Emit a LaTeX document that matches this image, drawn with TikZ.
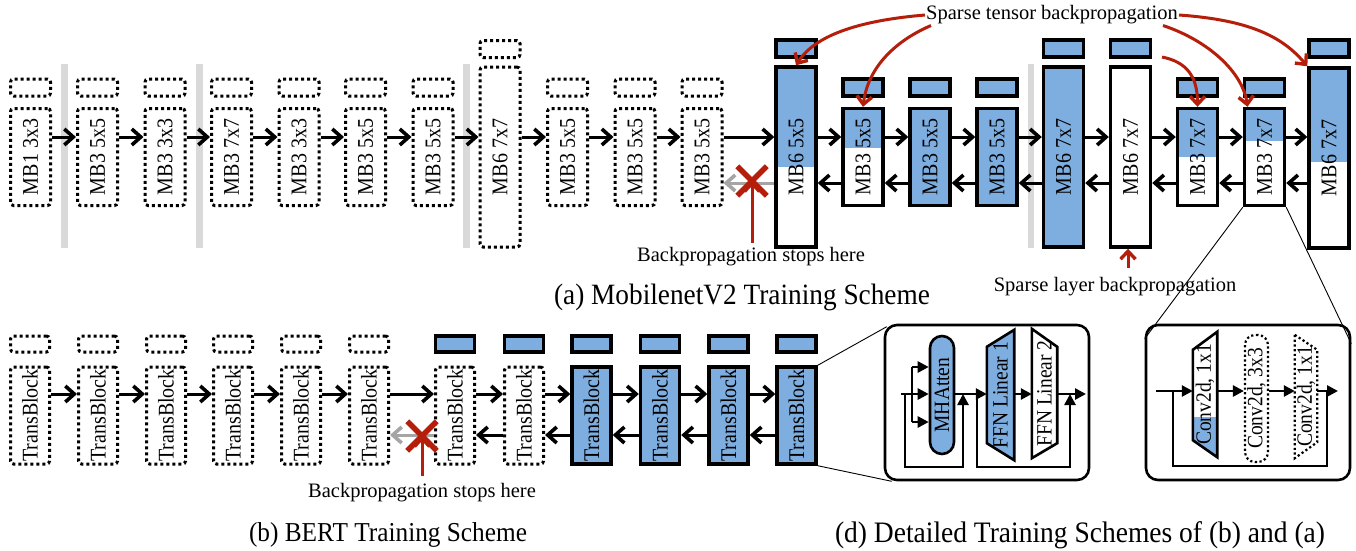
\documentclass[tikz,border=0pt]{standalone}
\usepackage{fontspec}
\setmainfont{Liberation Serif}
\usepackage{graphicx}
\usetikzlibrary{arrows.meta,shapes.misc,calc}
\definecolor{myblue}{RGB}{126,174,224}
\definecolor{myred}{RGB}{180,30,10}
\definecolor{bargray}{RGB}{217,217,217}
\definecolor{arrgray}{RGB}{165,165,165}
\newcommand\vtxt[1]{\rotatebox{90}{\scalebox{1}[1.12]{#1}}}
\newcommand\ctxt[1]{\scalebox{1}[1.08]{#1}}
\pgfdeclarelayer{bg}
\pgfsetlayers{bg,main}
\tikzset{
  lbl/.style={font=\fontsize{20}{24}\selectfont, inner sep=0pt, align=center},
  dotb/.style={lbl, draw, line width=3pt, dash pattern=on 3pt off 3pt, rounded corners=3pt},
  solb/.style={lbl, draw, line width=3.4pt},
  bluefill/.style={fill=myblue},
  whitefill/.style={fill=white},
  reg/.style={minimum width=40pt, minimum height=97pt},
  tall/.style={minimum width=40pt, minimum height=180pt},
  smallb/.style={minimum width=40pt, minimum height=17pt},
  treg/.style={minimum width=39pt, minimum height=97pt},
  tsmall/.style={minimum width=39pt, minimum height=16pt},
  partfill/.style={path picture={\fill[myblue] (path picture bounding box.north west) rectangle ($(path picture bounding box.north east)!#1!(path picture bounding box.south east)$);}},
  bar/.style={fill=bargray, draw=none, minimum width=6.5pt, inner sep=0pt},
  fwd/.style={line width=3pt, -{Straight Barb[length=9pt,width=16pt,line width=3.6pt]}},
  gfwd/.style={line width=3pt, draw=arrgray, -{Straight Barb[length=9pt,width=16pt,line width=3.6pt]}},
  redarr/.style={line width=3pt, draw=myred, -{Straight Barb[length=8pt,width=15pt,line width=3.4pt]}},
  xmark/.style={cross out, draw=myred, line width=5.5pt, minimum size=24pt, inner sep=0pt},
  ann/.style={font=\fontsize{20.5}{24}\selectfont, inner sep=1pt},
  capa/.style={font=\fontsize{27.3}{30}\selectfont, inner sep=0pt},
  capb/.style={font=\fontsize{25.3}{30}\selectfont, inner sep=0pt},
  capd/.style={font=\fontsize{27.5}{30}\selectfont, inner sep=0pt},
  dbox/.style={draw, line width=2.6pt, rounded corners=12pt, minimum width=204pt, minimum height=155pt},
  dlbl/.style={font=\fontsize{19.5}{22}\selectfont, inner sep=0pt},
  tri/.style={line width=2.6pt, -{Triangle[length=11pt,width=11pt]}},
  dline/.style={line width=2.6pt},
  zline/.style={line width=0.9pt},
  ddot/.style={draw, line width=2.2pt, dash pattern=on 2.2pt off 2.5pt}
}
\begin{document}
\begin{tikzpicture}[x=1pt,y=-1pt]
\useasboundingbox (0,0) rectangle (1356,550);

% ---------------- (a) MobilenetV2 ----------------
\node[bar, minimum height=184pt] (g1) at (64.5,156) {};
\node[bar, minimum height=184pt] (g2) at (199.5,156) {};
\node[bar, minimum height=184pt] (g3) at (466.5,156) {};
\node[bar, minimum height=184pt] (g4) at (1031,156) {};

\node[dotb, reg] (a1) at (30.5,157) {\vtxt{MB1 3x3}};
\node[dotb, reg] (a2) at (97.5,157) {\vtxt{MB3 5x5}};
\node[dotb, reg] (a3) at (165,157) {\vtxt{MB3 3x3}};
\node[dotb, reg] (a4) at (231.5,157) {\vtxt{MB3 7x7}};
\node[dotb, reg] (a5) at (299,157) {\vtxt{MB3 3x3}};
\node[dotb, reg] (a6) at (365.5,157) {\vtxt{MB3 5x5}};
\node[dotb, reg] (a7) at (433,157) {\vtxt{MB3 5x5}};
\node[dotb, tall] (a8) at (500,157) {\vtxt{MB6 7x7}};
\node[dotb, reg] (a9) at (567.5,157) {\vtxt{MB3 5x5}};
\node[dotb, reg] (a10) at (635,157) {\vtxt{MB3 5x5}};
\node[dotb, reg] (a11) at (702,157) {\vtxt{MB3 5x5}};
\node[solb, tall, whitefill, partfill=0.554] (a12) at (796,157) {\vtxt{MB6 5x5}};
\node[solb, reg, whitefill, partfill=0.41] (a13) at (863,157) {\vtxt{MB3 5x5}};
\node[solb, reg, bluefill] (a14) at (930,157) {\vtxt{MB3 5x5}};
\node[solb, reg, bluefill] (a15) at (997,157) {\vtxt{MB3 5x5}};
\node[solb, tall, bluefill] (a16) at (1063.5,157) {\vtxt{MB6 7x7}};
\node[solb, tall, whitefill] (a17) at (1130.5,157) {\vtxt{MB6 7x7}};
\node[solb, reg, whitefill, partfill=0.5] (a18) at (1197.5,157) {\vtxt{MB3 7x7}};
\node[solb, reg, whitefill, partfill=0.34] (a19) at (1264.5,157) {\vtxt{MB3 7x7}};
\node[solb, tall, whitefill, partfill=0.52] (a20) at (1329,158) {\vtxt{MB6 7x7}};

% small top boxes
\foreach \i/\x in {1/30.5,2/97.5,3/165,4/231.5,5/299,6/365.5,7/433,9/567.5,10/635,11/702}
  \node[dotb, smallb] (s\i) at (\x,87.5) {};
\node[dotb, smallb] (s8) at (500,49) {};
\foreach \i/\x in {13/863,14/930,15/997,18/1197.5,19/1264.5}
  \node[solb, smallb, bluefill] (s\i) at (\x,87.5) {};
\foreach \i/\x in {12/796,16/1063.5,17/1130.5,20/1329}
  \node[solb, smallb, bluefill] (s\i) at (\x,48.5) {};

\coordinate (fy) at (0,137);
\coordinate (by) at (0,183);
\foreach \i in {1,...,19} {
  \pgfmathtruncatemacro\j{\i+1}
  \draw[fwd] (a\i.east |- fy) -- (a\j.west |- fy);
}
\foreach \i in {13,...,20} {
  \pgfmathtruncatemacro\j{\i-1}
  \draw[fwd] (a\i.west |- by) -- (a\j.east |- by);
}
\draw[gfwd] (a12.west |- by) -- (a11.east |- by);
\coordinate (ra) at (752,243);
\node[xmark] (xa) at (752,181) {};
\draw[redarr] (ra) -- (xa.center);
\node[ann] (bsa) at (751,257) {Backpropagation stops here};

\node[ann] (stb) at (1052,15) {Sparse tensor backpropagation};
\coordinate (cs) at (1162,57);
\draw[redarr] (stb.west) .. controls +(-60,5) and +(20,-32) .. (a12.north);
\draw[redarr] ([xshift=6pt]stb.south west) .. controls +(-35,15) and +(5,-40) .. (a13.north);
\draw[redarr] (cs) .. controls +(25,5) and +(0,-30) .. (a18.north);
\draw[redarr] ([xshift=-16pt]stb.south east) .. controls +(45,15) and +(-5,-35) .. ([xshift=-17pt]a19.north);
\draw[redarr] (stb.east) .. controls +(70,5) and +(-25,-30) .. (a20.north west);

\node[ann] (slb) at (1115,287) {Sparse layer backpropagation};
\coordinate (rs) at (1128,268);
\draw[redarr] (rs) -- (rs |- a17.south);

\node[capa] (capta) at (742,297) {\ctxt{(a) MobilenetV2 Training Scheme}};

% ---------------- (b) BERT ----------------
\foreach \i/\x in {1/30,2/98,3/166,4/233,5/301,6/369}{
  \node[dotb, treg] (t\i) at (\x,415.5) {\vtxt{TransBlock}};
  \node[dotb, tsmall] (u\i) at (\x,344) {};
}
\node[dotb, treg] (t7) at (455,415.5) {\vtxt{TransBlock}};
\node[dotb, treg] (t8) at (524,415.5) {\vtxt{TransBlock}};
\foreach \i/\x in {9/591.5,10/660,11/728.5,12/796.5}
  \node[solb, treg, bluefill] (t\i) at (\x,415.5) {\vtxt{TransBlock}};
\foreach \i/\x in {7/455,8/524,9/591.5,10/660,11/728.5,12/796.5}
  \node[solb, tsmall, bluefill] (u\i) at (\x,344) {};

\coordinate (fyb) at (0,394);
\coordinate (byb) at (0,435);
\foreach \i in {1,...,11} {
  \pgfmathtruncatemacro\j{\i+1}
  \draw[fwd] (t\i.east |- fyb) -- (t\j.west |- fyb);
}
\foreach \i in {8,...,12} {
  \pgfmathtruncatemacro\j{\i-1}
  \draw[fwd] (t\i.west |- byb) -- (t\j.east |- byb);
}
\draw[gfwd] (t7.west |- byb) -- (t6.east |- byb);
\coordinate (rb) at (422,476);
\node[xmark] (xb) at (422,436) {};
\draw[redarr] (rb) -- (xb.center);
\node[ann] (bsb) at (422,493) {Backpropagation stops here};

\node[capb] (captb) at (388,535) {\ctxt{(b) BERT Training Scheme}};
\node[capd] (captd) at (1080,535) {\ctxt{(d) Detailed Training Schemes of (b) and (a)}};

% ---------------- (d) details ----------------
\node[dbox] (d1) at (987,402.5) {};
\node[dbox] (d2) at (1248,402.5) {};
\draw[zline] (t12.north east) -- ([xshift=3pt,yshift=-3pt]d1.north west);
\draw[zline] (t12.south east) -- ([xshift=8pt]d1.south west);
\draw[zline] (a19.south west) -- ([yshift=-15pt]d2.north west);
\draw[zline] (a19.south east) -- ([yshift=-20pt]d2.north east);

% transformer block detail
\node[draw, fill=myblue, line width=2.6pt, rounded corners=12pt, minimum width=24pt, minimum height=118pt, dlbl] (mha) at (942,395) {\vtxt{MHAtten}};
\node[dlbl, minimum width=27pt, minimum height=130pt] (f1) at (1000.5,395) {\vtxt{FFN Linear 1}};
\node[dlbl, minimum width=25pt, minimum height=129pt] (f2) at (1044.5,393.5) {\vtxt{FFN Linear 2}};
\begin{pgfonlayer}{bg}
\draw[line width=2.6pt, fill=myblue] ([yshift=-17pt]f1.north west) -- (f1.north east) -- (f1.south east) -- ([yshift=17pt]f1.south west) -- cycle;
\draw[line width=2.6pt, fill=white] (f2.north west) -- ([yshift=-18pt]f2.north east) -- ([yshift=15pt]f2.south east) -- (f2.south west) -- cycle;
\end{pgfonlayer}
\coordinate (in1) at (901,394);
\coordinate (bt) at (912,367);
\coordinate (bb) at (912,422);
\coordinate (r1s) at (905,394);
\coordinate (r1e) at (963,394);
\coordinate (r2s) at (977,394);
\coordinate (r2e) at (1070,394);
\coordinate (out1) at (1086,394);
\draw[dline] (bt) -- (bb);
\draw[tri] (in1) -- (in1 -| mha.west);
\draw[tri] (bt) -- (bt -| mha.west);
\draw[tri] (bb) -- (bb -| mha.west);
\draw[tri] (r1s) -- ++(0,73) -| (r1e);
\draw[tri] (mha.east |- in1) -- (f1.west |- in1);
\draw[tri] (r2s) -- ++(0,73) -| (r2e);
\draw[tri] (f1.east |- in1) -- (f2.west |- in1);
\draw[tri] (f2.east |- in1) -- (out1);

% MB block detail
\node[dlbl, minimum width=24pt, minimum height=125pt] (c1) at (1205,394.5) {\vtxt{Conv2d, 1x1}};
\node[ddot, rounded corners=10pt, minimum width=23pt, minimum height=127pt, dlbl] (c2) at (1256.5,398.5) {\vtxt{Conv2d, 3x3}};
\node[dlbl, minimum width=22pt, minimum height=123pt] (c3) at (1306,396.5) {\vtxt{Conv2d, 1x1}};
\begin{pgfonlayer}{bg}
\begin{scope}
\clip ([yshift=-18pt]c1.north west) -- (c1.north east) -- (c1.south east) -- ([yshift=17pt]c1.south west) -- cycle;
\fill[myblue] ([yshift=40pt]c1.south west) rectangle (c1.south east);
\end{scope}
\draw[line width=2.6pt] ([yshift=-18pt]c1.north west) -- (c1.north east) -- (c1.south east) -- ([yshift=17pt]c1.south west) -- cycle;
\draw[ddot] (c3.north west) -- ([yshift=-15pt]c3.north east) -- ([yshift=16pt]c3.south east) -- (c3.south west) -- cycle;
\end{pgfonlayer}
\coordinate (in2) at (1156,391);
\coordinate (r3s) at (1173,391);
\coordinate (r3e) at (1327,391);
\coordinate (out2) at (1338,391);
\draw[dline] (r3s) -- ++(0,75) -| (r3e);
\draw[tri] (in2) -- (in2 -| c1.west);
\draw[tri] (c1.east |- in2) -- (c2.west |- in2);
\draw[tri] (c2.east |- in2) -- (c3.west |- in2);
\draw[tri] (c3.east |- in2) -- (out2);
\end{tikzpicture}
\end{document}
